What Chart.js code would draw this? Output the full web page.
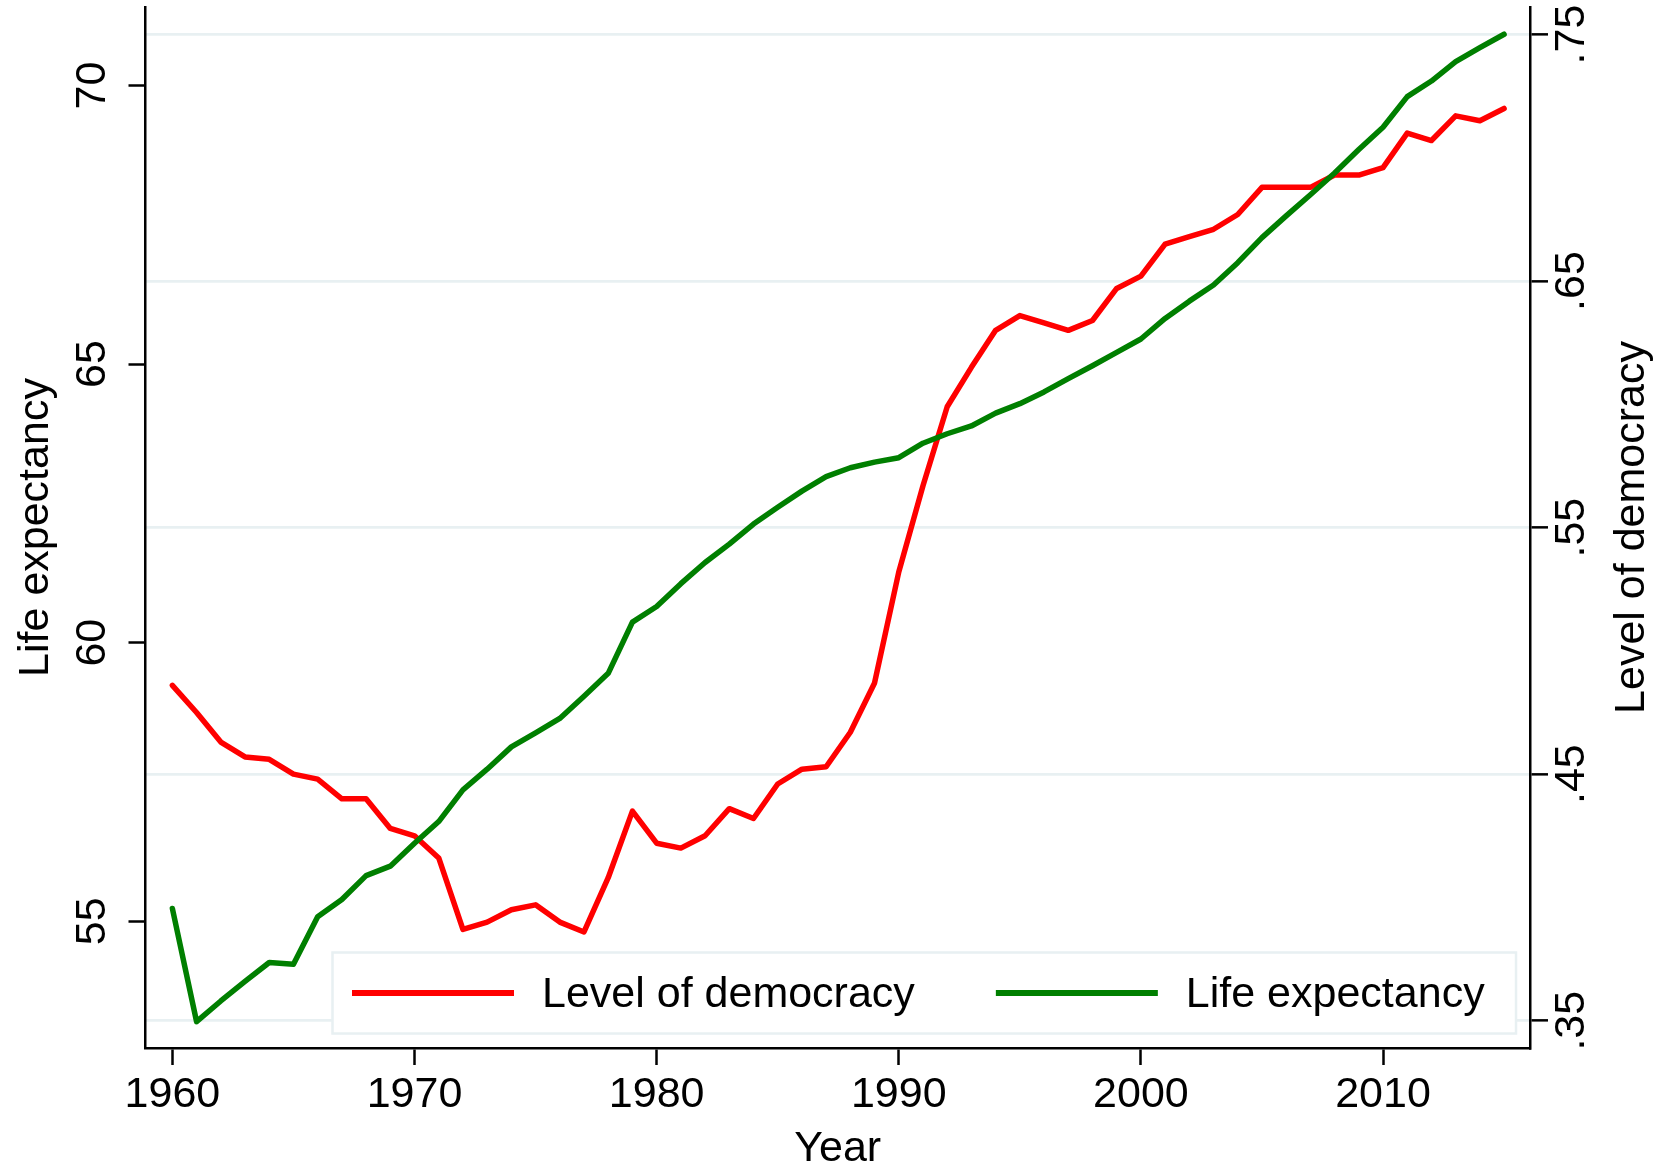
<!DOCTYPE html>
<html>
<head>
<meta charset="utf-8">
<title>Life expectancy and level of democracy</title>
<script src="https://cdn.jsdelivr.net/npm/chart.js@4/dist/chart.umd.min.js"></script>
<style>
  html, body { margin: 0; padding: 0; background: #fff; }
  #wrap { width: 1665px; height: 1171px; position: relative; }
</style>
</head>
<body>
<div id="wrap"><canvas id="lifeDemocracyChart"></canvas></div>
<script>
// Data
const years = [
  1960, 1961, 1962, 1963, 1964, 1965, 1966, 1967, 1968, 1969,
  1970, 1971, 1972, 1973, 1974, 1975, 1976, 1977, 1978, 1979,
  1980, 1981, 1982, 1983, 1984, 1985, 1986, 1987, 1988, 1989,
  1990, 1991, 1992, 1993, 1994, 1995, 1996, 1997, 1998, 1999,
  2000, 2001, 2002, 2003, 2004, 2005, 2006, 2007, 2008, 2009,
  2010, 2011, 2012, 2013, 2014, 2015
];
const democracy = [
  0.486, 0.475, 0.463, 0.457, 0.456, 0.450, 0.448, 0.440, 0.440, 0.428,
  0.425, 0.416, 0.387, 0.390, 0.395, 0.397, 0.390, 0.386, 0.408, 0.435,
  0.422, 0.420, 0.425, 0.436, 0.432, 0.446, 0.452, 0.453, 0.467, 0.487,
  0.532, 0.567, 0.599, 0.615, 0.630, 0.636, 0.633, 0.630, 0.634, 0.647,
  0.652, 0.665, 0.668, 0.671, 0.677, 0.688, 0.688, 0.688, 0.693, 0.693,
  0.696, 0.710, 0.707, 0.717, 0.715, 0.720
];
const lifeExpectancy = [
  55.23, 53.20, 53.57, 53.92, 54.26, 54.23, 55.08, 55.39, 55.82, 55.99,
  56.40, 56.79, 57.36, 57.73, 58.13, 58.38, 58.64, 59.04, 59.45, 60.37,
  60.65, 61.06, 61.44, 61.77, 62.13, 62.43, 62.72, 62.98, 63.14, 63.24,
  63.32, 63.58, 63.75, 63.89, 64.12, 64.29, 64.50, 64.74, 64.97, 65.21,
  65.45, 65.82, 66.13, 66.42, 66.82, 67.27, 67.66, 68.04, 68.43, 68.85,
  69.25, 69.80, 70.08, 70.43, 70.68, 70.92
];
const yearTicks = [1960, 1970, 1980, 1990, 2000, 2010];
const lifeTicks = [55, 60, 65, 70];
const democracyTicks = [0.35, 0.45, 0.55, 0.65, 0.75];

const FONT = '"Liberation Sans", Arial, Helvetica, sans-serif';
const GRID = "#e8f0f2";

document.addEventListener("DOMContentLoaded", () => {
  const toPoints = (vals) => years.map((yr, i) => ({ x: yr, y: vals[i] }));

  // Legend box + right axis title (reads bottom to top, like Stata)
  const extras = {
    id: "extras",
    afterDraw(chart) {
      const { ctx, chartArea } = chart;
      ctx.save();
      ctx.font = "43px " + FONT;
      ctx.fillStyle = "#000";

      // legend
      const boxL = chartArea.left + 187;
      const boxR = chartArea.right - 14;
      const boxB = chartArea.bottom - 14.5;
      const boxT = boxB - 81;
      ctx.fillStyle = "#fff";
      ctx.fillRect(boxL, boxT, boxR - boxL, boxB - boxT);
      ctx.strokeStyle = GRID;
      ctx.lineWidth = 2.5;
      ctx.strokeRect(boxL, boxT, boxR - boxL, boxB - boxT);

      const midY = (boxT + boxB) / 2;
      let x = boxL + 19.5;
      chart.data.datasets.forEach((ds) => {
        ctx.strokeStyle = ds.borderColor;
        ctx.lineWidth = 6;
        ctx.beginPath();
        ctx.moveTo(x, midY);
        ctx.lineTo(x + 162, midY);
        ctx.stroke();
        x += 162 + 28;
        ctx.fillStyle = "#000";
        ctx.textAlign = "left";
        ctx.textBaseline = "middle";
        ctx.fillText(ds.label, x, midY + 2);
        x += ctx.measureText(ds.label).width + 81;
      });

      // right axis title
      const right = chart.scales.yDem;
      ctx.translate(right.right - 32.4, (chartArea.top + chartArea.bottom) / 2);
      ctx.rotate(-Math.PI / 2);
      ctx.textAlign = "center";
      ctx.textBaseline = "middle";
      ctx.fillStyle = "#000";
      ctx.fillText("Level of democracy", 0, 0);
      ctx.restore();
    },
  };

  const tickFont = { family: FONT, size: 43 };

  new Chart(document.getElementById("lifeDemocracyChart"), {
    type: "line",
    data: {
      datasets: [
        {
          label: "Level of democracy",
          data: toPoints(democracy),
          yAxisID: "yDem",
          borderColor: "#ff0000",
          borderWidth: 5.5,
          order: 1,
        },
        {
          label: "Life expectancy",
          data: toPoints(lifeExpectancy),
          yAxisID: "yLife",
          borderColor: "#007f00",
          borderWidth: 5.5,
          order: 0,
        },
      ],
    },
    options: {
      responsive: true,
      maintainAspectRatio: false,
      animation: false,
      events: [],
      layout: { padding: { left: 0, right: 0, top: 7, bottom: 0 } },
      elements: {
        point: { radius: 0 },
        line: { tension: 0, borderJoinStyle: "round", borderCapStyle: "round", fill: false },
      },
      plugins: {
        legend: { display: false },
        tooltip: { enabled: false },
      },
      scales: {
        x: {
          type: "linear",
          position: "bottom",
          min: 1958.89,
          max: 2016.07,
          afterBuildTicks: (s) => { s.ticks = yearTicks.map((v) => ({ value: v })); },
          afterFit: (s) => { s.height = 123; s.paddingLeft = 0; s.paddingRight = 0; },
          ticks: {
            font: tickFont, color: "#000", padding: 4, autoSkip: false,
            maxRotation: 0, minRotation: 0,
            callback: (v) => String(v),
          },
          grid: { drawOnChartArea: false, tickLength: 17, tickColor: "#000", tickWidth: 2.5 },
          border: { color: "#000", width: 2.5 },
          title: {
            display: true, text: "Year", color: "#000",
            font: { family: FONT, size: 43, lineHeight: 1 },
            padding: { top: 0, bottom: 0 },
          },
        },
        yLife: {
          type: "linear",
          position: "left",
          min: 52.726,
          max: 71.409,
          afterBuildTicks: (s) => { s.ticks = lifeTicks.map((v) => ({ value: v })); },
          afterFit: (s) => { s.width = 145.5; s.paddingTop = 0; s.paddingBottom = 0; },
          ticks: {
            font: tickFont, color: "#000", padding: 11.3, autoSkip: false,
            minRotation: 90, maxRotation: 90, crossAlign: "center",
            callback: (v) => String(v),
          },
          grid: { drawOnChartArea: false, tickLength: 17, tickColor: "#000", tickWidth: 2.5 },
          border: { color: "#000", width: 2.5 },
          title: {
            display: true, text: "Life expectancy", color: "#000",
            font: { family: FONT, size: 43, lineHeight: 1 },
            padding: { top: 14.5, bottom: 0 },
          },
        },
        yDem: {
          type: "linear",
          position: "right",
          min: 0.33893,
          max: 0.76115,
          afterBuildTicks: (s) => { s.ticks = democracyTicks.map((v) => ({ value: v })); },
          afterFit: (s) => { s.width = 135; s.paddingTop = 0; s.paddingBottom = 0; },
          ticks: {
            font: tickFont, color: "#000", padding: -6, autoSkip: false,
            minRotation: 90, maxRotation: 90, crossAlign: "center",
            callback: (v) => "." + Math.round(v * 100),
          },
          grid: { color: GRID, lineWidth: 2.7, tickLength: 18, tickColor: "#000", tickWidth: 2.5 },
          border: { color: "#000", width: 2.5 },
        },
      },
    },
    plugins: [extras],
  });
});
</script>
</body>
</html>
